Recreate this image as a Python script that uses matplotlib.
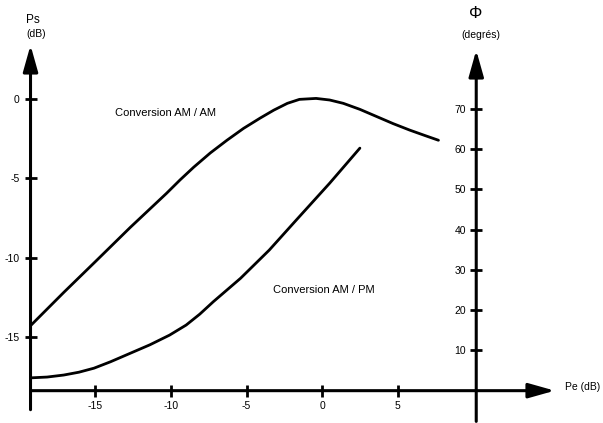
import matplotlib

matplotlib.use("Agg")
import matplotlib.pyplot as plt
from matplotlib.patches import ArrowStyle

plt.rcParams["font.family"] = ["Liberation Sans", "DejaVu Sans"]
plt.rcParams["axes.unicode_minus"] = False

# Conversion AM/AM : Ps (dB) en fonction de Pe (dB)
PE_AMAM = [-19.3, -17.1, -15.0, -12.7, -10.3, -9.4, -8.5, -7.4, -6.3, -5.2, -4.1, -3.2,
           -2.3, -1.5, -0.4, 0.5, 1.4, 2.5, 3.6, 4.7, 5.8, 6.8, 7.7]
PS_AMAM = [-14.3, -12.2, -10.25, -8.1, -5.95, -5.1, -4.3, -3.4, -2.6, -1.85, -1.2, -0.7,
           -0.27, -0.02, 0.04, -0.06, -0.27, -0.65, -1.1, -1.55, -1.96, -2.3, -2.6]

# Conversion AM/PM : phase (degres) en fonction de Pe (dB)
PE_AMPM = [-19.3, -18.2, -17.1, -16.1, -15.1, -14.0, -12.7, -11.4, -10.1, -9.0,
           -8.1, -7.2, -5.4, -3.5, -1.7, 0.5, 2.5]
PHI_AMPM = [3.2, 3.4, 3.9, 4.6, 5.6, 7.2, 9.3, 11.4, 13.8, 16.3,
            19.0, 22.1, 27.9, 34.9, 42.4, 51.5, 60.2]

PE_TICKS = [-15, -10, -5, 0, 5]
PS_TICKS = [0, -5, -10, -15]
PHI_TICKS = [10, 20, 30, 40, 50, 60, 70]

# emplacement des axes dessines
PE_LEFT = -19.3
PE_RIGHT = 10.2
PS_BOTTOM = -18.4

W, H = 603, 423


def arrow(axis, start, end):
    axis.annotate(
        "",
        xy=end,
        xytext=start,
        arrowprops=dict(
            arrowstyle=ArrowStyle("-|>", head_length=1.6, head_width=0.45),
            mutation_scale=10,
            lw=2.2,
            color="black",
            shrinkA=0,
            shrinkB=0,
        ),
        annotation_clip=False,
    )


def main():
    fig = plt.figure(figsize=(W / 100, H / 100), dpi=100)
    ax = fig.add_axes([0, 0, 1, 1])
    ax.set_xlim(-21.32, 18.59)
    ax.set_ylim(-20.44, 6.25)
    ax.patch.set_visible(False)

    for s in ["top", "right"]:
        ax.spines[s].set_visible(False)
    ax.spines["left"].set_position(("data", PE_LEFT))
    ax.spines["bottom"].set_position(("data", PS_BOTTOM))
    ax.spines["left"].set_visible(False)
    ax.spines["bottom"].set_visible(False)

    ax.set_xticks(PE_TICKS)
    ax.set_yticks(PS_TICKS)
    ax.tick_params(axis="both", direction="inout", length=9, width=2, labelsize=7.5)
    ax.tick_params(axis="x", pad=3)
    ax.tick_params(axis="y", pad=3.5)

    ax.plot(PE_AMAM, PS_AMAM, color="black", lw=2, solid_capstyle="round",
            solid_joinstyle="round")

    arrow(ax, (PE_LEFT, -19.6), (PE_LEFT, 3.4))
    arrow(ax, (PE_LEFT, PS_BOTTOM), (15.4, PS_BOTTOM))

    ax2 = ax.twinx()
    ax2.set_ylim(-8.0, 96.95)
    for s in ["top", "right", "bottom"]:
        ax2.spines[s].set_visible(False)
    ax2.spines["left"].set_position(("data", PE_RIGHT))
    ax2.spines["left"].set_visible(False)
    ax2.yaxis.tick_left()
    ax2.set_yticks(PHI_TICKS)
    ax2.tick_params(axis="y", direction="inout", length=9, width=2, labelsize=7.5, pad=2.7)

    ax2.plot(PE_AMPM, PHI_AMPM, color="black", lw=2, solid_capstyle="round",
             solid_joinstyle="round")
    arrow(ax2, (PE_RIGHT, -7.6), (PE_RIGHT, 84.5))

    ax.text(-13.7, -0.88, "Conversion AM / AM", fontsize=8, va="center", ha="left")
    ax.text(-3.24, -12.05, "Conversion AM / PM", fontsize=8, va="center", ha="left")

    fig.text(33 / W, 1 - 20 / H, "Ps", fontsize=8.5, ha="center", va="center")
    fig.text(36 / W, 1 - 34 / H, "(dB)", fontsize=7.5, ha="center", va="center")
    fig.text(476 / W, 1 - 14 / H, "Φ", fontsize=12, ha="center", va="center")
    fig.text(481 / W, 1 - 35 / H, "(degrés)", fontsize=7.5, ha="center", va="center")
    fig.text(565 / W, 1 - 387 / H, "Pe (dB)", fontsize=7.5, ha="left", va="center")

    fig.savefig("out.png", dpi=100)
    plt.close(fig)


if __name__ == "__main__":
    main()
